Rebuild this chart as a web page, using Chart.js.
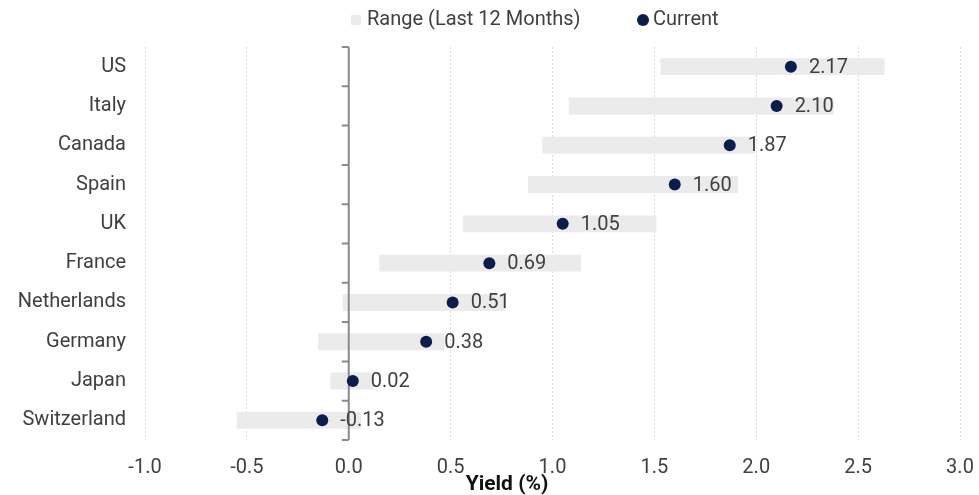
<!DOCTYPE html>
<html>
<head>
<meta charset="utf-8">
<script src="https://cdn.jsdelivr.net/npm/chart.js@4"></script>
<style>
  html, body { margin: 0; padding: 0; background: #fff; }
  #wrap { width: 979px; height: 495px; }
</style>
</head>
<body>
<div id="wrap"><canvas id="yieldChart"></canvas></div>
<script>
var countries = ["US", "Italy", "Canada", "Spain", "UK", "France", "Netherlands", "Germany", "Japan", "Switzerland"];
var rangeLow  = [1.53, 1.08, 0.95, 0.88, 0.56, 0.15, -0.03, -0.15, -0.09, -0.55];
var rangeHigh = [2.63, 2.38, 1.99, 1.91, 1.51, 1.14, 0.77, 0.47, 0.12, 0.06];
var current   = [2.17, 2.10, 1.87, 1.60, 1.05, 0.69, 0.51, 0.38, 0.02, -0.13];
var xTicks    = [-1.0, -0.5, 0.0, 0.5, 1.0, 1.5, 2.0, 2.5, 3.0];

var seriesNames = ["Range (Last 12 Months)", "Current"];
var axisTitle = "Yield (%)";
var rangeColor = "#ebebeb";
var dotColor = "#0b1d4d";
var textColor = "#404040";
var fontName = "Roboto";

var rangeData = countries.map(function (c, i) { return [rangeLow[i], rangeHigh[i]]; });

// zero line with little tick marks between the countries
var zeroAxis = {
  id: "zeroAxis",
  afterDatasetDraw: function (chart, args) {
    if (args.index !== 0) return;
    var ctx = chart.ctx, x = chart.scales.x, y = chart.scales.y;
    var x0 = x.getPixelForValue(0);
    ctx.save();
    ctx.strokeStyle = "#8a8a8a";
    ctx.lineWidth = 2;
    ctx.beginPath();
    ctx.moveTo(x0, y.top);
    ctx.lineTo(x0, y.bottom);
    for (var i = 0; i <= countries.length; i++) {
      var py = y.getPixelForValue(i - 0.5);
      ctx.moveTo(x0 - 7, py);
      ctx.lineTo(x0, py);
    }
    ctx.stroke();
    ctx.restore();
  }
};

// value labels to the right of the dots
var dotLabels = {
  id: "dotLabels",
  afterDatasetsDraw: function (chart) {
    var ctx = chart.ctx;
    var meta = chart.getDatasetMeta(1);
    ctx.save();
    ctx.font = "20px " + fontName;
    ctx.fillStyle = textColor;
    ctx.textAlign = "left";
    ctx.textBaseline = "middle";
    meta.data.forEach(function (pt, i) {
      ctx.fillText(current[i].toFixed(2), pt.x + 18, pt.y + 1);
    });
    ctx.restore();
  }
};

// legend across the top, axis title under the ticks (sits left of centre in the original)
var extraText = {
  id: "extraText",
  afterDraw: function (chart) {
    var ctx = chart.ctx;
    var ly = 20;
    ctx.save();
    ctx.font = "20px " + fontName;
    ctx.textBaseline = "middle";
    ctx.textAlign = "left";
    var x1 = 351;
    ctx.fillStyle = rangeColor;
    ctx.fillRect(x1, ly - 5, 10, 10);
    ctx.fillStyle = textColor;
    ctx.fillText(seriesNames[0], x1 + 16, ly);
    var x2 = 643;
    ctx.fillStyle = dotColor;
    ctx.beginPath();
    ctx.arc(x2, ly, 6, 0, Math.PI * 2);
    ctx.fill();
    ctx.fillStyle = textColor;
    ctx.fillText(seriesNames[1], x2 + 10, ly);

    ctx.font = "bold 21px " + fontName;
    ctx.fillStyle = "#111";
    ctx.textAlign = "center";
    ctx.fillText(axisTitle, 507, 485);
    ctx.restore();
  }
};

var ctx1 = document.getElementById("yieldChart").getContext("2d");
new Chart(ctx1, {
  type: "bar",
  data: {
    labels: countries,
    datasets: [{
      label: seriesNames[0],
      data: rangeData,
      backgroundColor: rangeColor,
      borderWidth: 0,
      borderSkipped: false,
      barPercentage: 0.43,
      categoryPercentage: 1,
      order: 1
    }, {
      type: "line",
      label: seriesNames[1],
      data: current,
      indexAxis: "y",
      showLine: false,
      pointRadius: 6,
      pointBackgroundColor: dotColor,
      pointBorderWidth: 0,
      borderColor: dotColor,
      order: 0
    }]
  },
  options: {
    indexAxis: "y",
    responsive: true,
    maintainAspectRatio: false,
    animation: false,
    layout: { padding: { top: 47, right: 19, left: 0, bottom: 0 } },
    plugins: {
      legend: { display: false },
      tooltip: { enabled: false }
    },
    scales: {
      x: {
        min: xTicks[0],
        max: xTicks[xTicks.length - 1],
        ticks: {
          stepSize: 0.5,
          padding: 16,
          color: textColor,
          font: { family: fontName, size: 20 },
          callback: function (v) { return Number(v).toFixed(1); }
        },
        grid: { color: "#d9d9d9", drawTicks: false },
        border: { display: false, dash: [2, 2] },
        afterFit: function (s) {
          s.height = 55;
          s.paddingLeft = 0;
          s.paddingRight = 0;
        }
      },
      y: {
        ticks: {
          padding: 11,
          color: textColor,
          font: { family: fontName, size: 20 }
        },
        grid: { display: false },
        border: { display: false },
        afterFit: function (s) { s.width = 145; }
      }
    }
  },
  plugins: [zeroAxis, dotLabels, extraText]
});
</script>
</body>
</html>
